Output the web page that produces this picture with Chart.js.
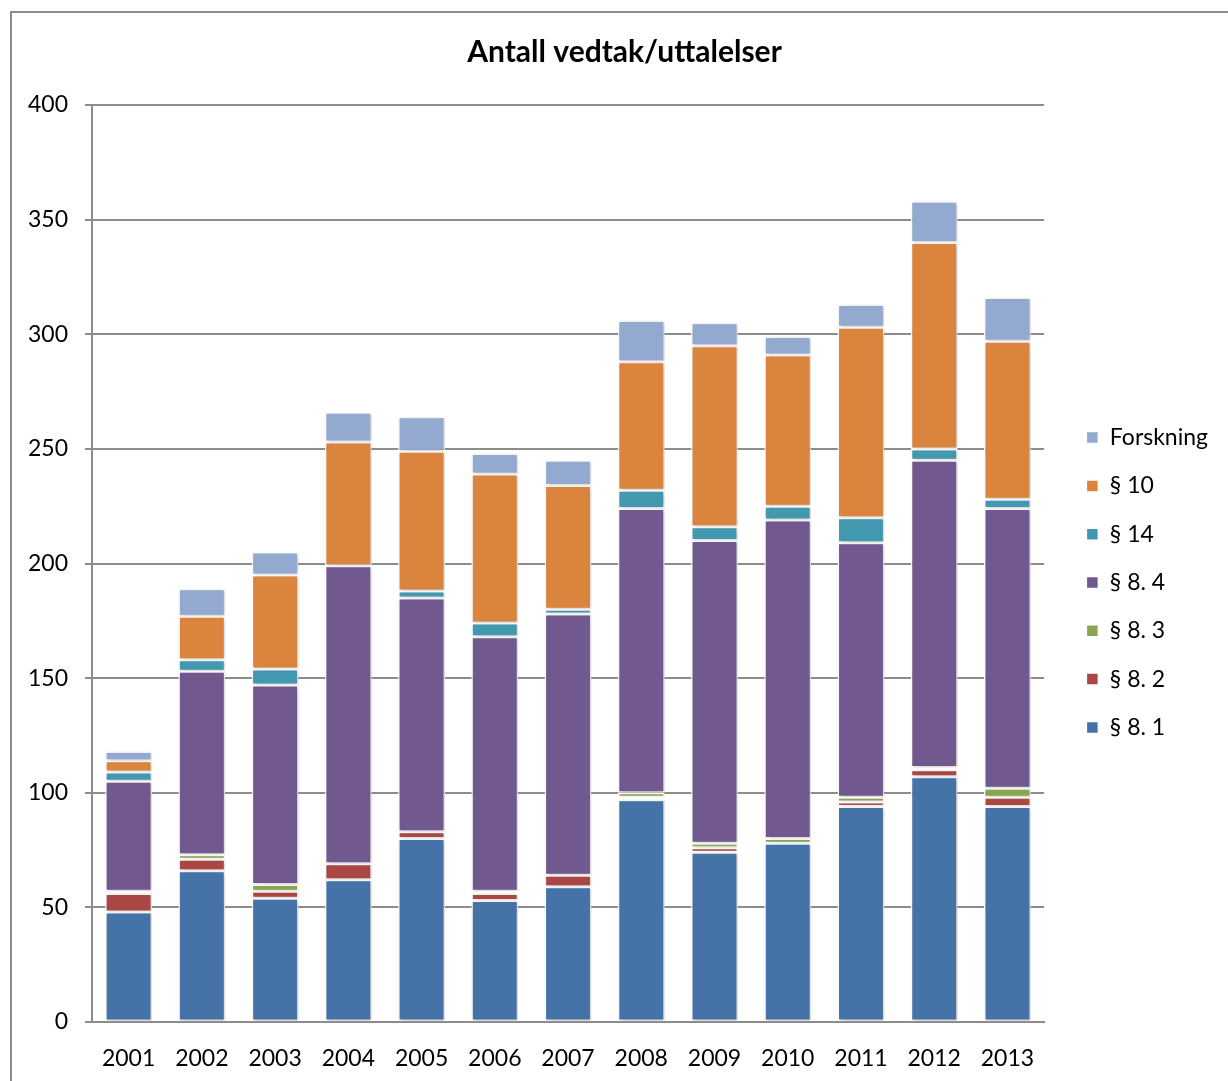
<!DOCTYPE html>
<html>
<head>
<meta charset="utf-8">
<script src="https://cdn.jsdelivr.net/npm/chart.js@4.4.1/dist/chart.umd.min.js"></script>
<style>
  body { margin: 0; background: #fff; }
  canvas { display: block; }
</style>
</head>
<body>
<canvas id="bar-chartcanvas" width="1228" height="1081"></canvas>
<script>
// categories and series values
var years = ["2001", "2002", "2003", "2004", "2005", "2006", "2007", "2008", "2009", "2010", "2011", "2012", "2013"];
var par81 = [48, 66, 54, 62, 80, 53, 59, 97, 74, 78, 94, 107, 94];
var par82 = [8, 5, 3, 7, 3, 3, 5, 1, 2, 0, 2, 3, 4];
var par83 = [1, 2, 3, 0, 0, 1, 0, 2, 2, 2, 2, 1, 4];
var par84 = [48, 80, 87, 130, 102, 111, 114, 124, 132, 139, 111, 134, 122];
var par14 = [4, 5, 7, 0, 3, 6, 2, 8, 6, 6, 11, 5, 4];
var par10 = [5, 19, 41, 54, 61, 65, 54, 56, 79, 66, 83, 90, 69];
var forskning = [4, 12, 10, 13, 15, 9, 11, 18, 10, 8, 10, 18, 19];
var yTicks = [0, 50, 100, 150, 200, 250, 300, 350, 400];

var fontFamily = "Lato, 'Open Sans', sans-serif";

function series(label, values, color) {
	return {
		label : label,
		data : values,
		backgroundColor : color,
		borderColor : "#ffffff",
		borderWidth : 1.5,
		borderSkipped : false,
		barPercentage : 0.64,
		categoryPercentage : 1.0
	};
}

// outer frame round the whole picture
var framePlugin = {
	id : "frame",
	beforeDraw : function(chart) {
		var ctx = chart.ctx;
		ctx.save();
		ctx.strokeStyle = "#8c8c8c";
		ctx.lineWidth = 2;
		ctx.strokeRect(11, 12, 1400, 1200);
		ctx.restore();
	}
};

// soft shadow behind the bars
var shadowPlugin = {
	id : "barShadow",
	beforeDatasetsDraw : function(chart) {
		var ctx = chart.ctx;
		ctx.save();
		ctx.shadowColor = "rgba(0,0,0,0.22)";
		ctx.shadowBlur = 4;
		ctx.shadowOffsetX = 1.5;
		ctx.shadowOffsetY = 1;
	},
	afterDatasetsDraw : function(chart) {
		chart.ctx.restore();
	}
};

// move the legend and title a bit, as in the original
var layoutShift = {
	id : "layoutShift",
	afterLayout : function(chart) {
		var lg = chart.legend;
		lg.left += 17; lg.right += 17;
		lg.top += 19; lg.bottom += 19;
		var tb = chart.titleBlock;
		tb.left += 24; tb.right += 24;
	}
};

var ctx = document.getElementById("bar-chartcanvas");

var data = {
	labels : years,
	datasets : [
		series("§ 8. 1", par81, "#4572A7"),
		series("§ 8. 2", par82, "#AA4643"),
		series("§ 8. 3", par83, "#89A54E"),
		series("§ 8. 4", par84, "#71588F"),
		series("§ 14", par14, "#4198AF"),
		series("§ 10", par10, "#DB843D"),
		series("Forskning", forskning, "#93A9CF")
	]
};

var options = {
	responsive : false,
	animation : false,
	layout : { padding : { left : 0, right : 27, top : 0, bottom : 0 } },
	plugins : {
		title : {
			display : true,
			text : "Antall vedtak/uttalelser",
			color : "#000",
			font : { family : fontFamily, size : 30, weight : "bold" },
			padding : { top : 34, bottom : 35 }
		},
		legend : {
			display : true,
			position : "right",
			fullSize : false,
			reverse : true,
			labels : {
				color : "#000",
				boxWidth : 12,
				boxHeight : 12,
				padding : 25.3,
				font : { family : fontFamily, size : 23 }
			}
		},
		tooltip : { enabled : false }
	},
	scales : {
		x : {
			stacked : true,
			afterFit : function(scale) { scale.height = 59; },
			grid : { display : false, drawTicks : false },
			border : { display : true, color : "#8c8c8c", width : 2 },
			ticks : { color : "#000", padding : 23, font : { family : fontFamily, size : 23 } }
		},
		y : {
			stacked : true,
			min : 0,
			max : 400,
			afterBuildTicks : function(scale) {
				scale.ticks = yTicks.map(function(v) { return { value : v }; });
			},
			afterFit : function(scale) { scale.width = 92; },
			grid : { color : "#8c8c8c", lineWidth : 2, tickLength : 7 },
			border : { display : true, color : "#8c8c8c", width : 2 },
			ticks : { color : "#000", padding : 17, font : { family : fontFamily, size : 23 } }
		}
	}
};

var chart = new Chart(ctx, {
	type : "bar",
	data : data,
	options : options,
	plugins : [framePlugin, shadowPlugin, layoutShift]
});
</script>
</body>
</html>
